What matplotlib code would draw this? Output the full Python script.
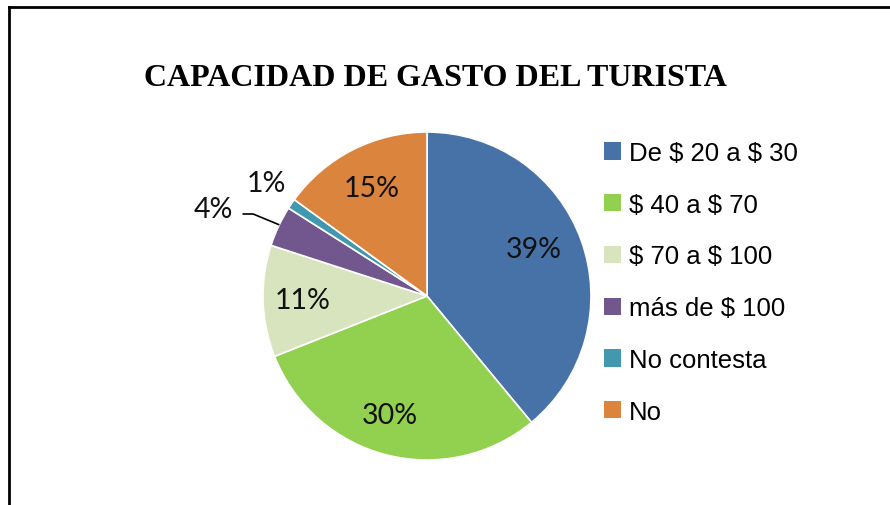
import matplotlib
matplotlib.use("Agg")
import matplotlib.pyplot as plt
from matplotlib.lines import Line2D
from matplotlib.patches import Patch
import numpy as np

plt.rcParams["text.parse_math"] = False

categories = ["De $ 20 a $ 30", "$ 40 a $ 70", "$ 70 a $ 100", "más de $ 100", "No contesta", "No"]
values = [39, 30, 11, 4, 1, 15]
colors = ["#4672A8", "#92D050", "#D7E4BD", "#72578F", "#4198AF", "#DB843D"]
title = "CAPACIDAD DE GASTO DEL TURISTA"

W, H = 890, 506
fig = plt.figure(figsize=(W / 100, H / 100), dpi=100)

# frame lines (left and top)
fig.add_artist(Line2D([8.5 / W, 8.5 / W], [0, 1 - 7.5 / H], color="black", lw=2, transform=fig.transFigure))
fig.add_artist(Line2D([8.5 / W, 1], [1 - 7.5 / H, 1 - 7.5 / H], color="black", lw=2, transform=fig.transFigure))

fig.text(435 / W, 1 - 79 / H, title, ha="center", va="center", fontsize=23,
         fontweight="bold", family="Liberation Serif")

cx, cy, r = 427, 297, 164
ax = fig.add_axes([(cx - r) / W, (H - cy - r) / H, 2 * r / W, 2 * r / H])
wedges, _ = ax.pie(values, colors=colors, startangle=90, counterclock=False, radius=1,
                   wedgeprops=dict(edgecolor="white", linewidth=1.2))
ax.set_xlim(-1, 1)
ax.set_ylim(-1, 1)
ax.set_aspect("equal")
ax.axis("off")

# label placement factors (radius, angle offset in degrees)
label_r = [0.71, 0.76, 0.76, 1.41, 1.2, 0.74]
label_da = [4, -3, 0, 3, -1, 0]
for w, v, lr, da in zip(wedges, values, label_r, label_da):
    mid = np.deg2rad((w.theta1 + w.theta2) / 2 + da)
    x, y = lr * np.cos(mid), lr * np.sin(mid)
    ax.text(x, y, f"{v}%", ha="center", va="center", fontsize=20.5, family="Lato", color="#111111")

# leader line for the small 4% slice
w4 = wedges[3]
m4 = np.deg2rad((w4.theta1 + w4.theta2) / 2)
ex, ey = np.cos(m4), np.sin(m4)
ax.plot([-1.12, -1.06, ex], [0.50, 0.50, ey + 0.01], color="black", lw=1.2, clip_on=False)

handles = [Patch(facecolor=c, edgecolor="none") for c in colors]
fig.legend(handles, categories, loc="upper left", bbox_to_anchor=(604 / W, 1 - 142 / H),
           frameon=False, prop=dict(family="Liberation Sans", size=18.5),
           handlelength=0.66, handleheight=0.66, handletextpad=0.32, labelspacing=1.08,
           borderaxespad=0, borderpad=0)

fig.savefig("out.png", dpi=100)
